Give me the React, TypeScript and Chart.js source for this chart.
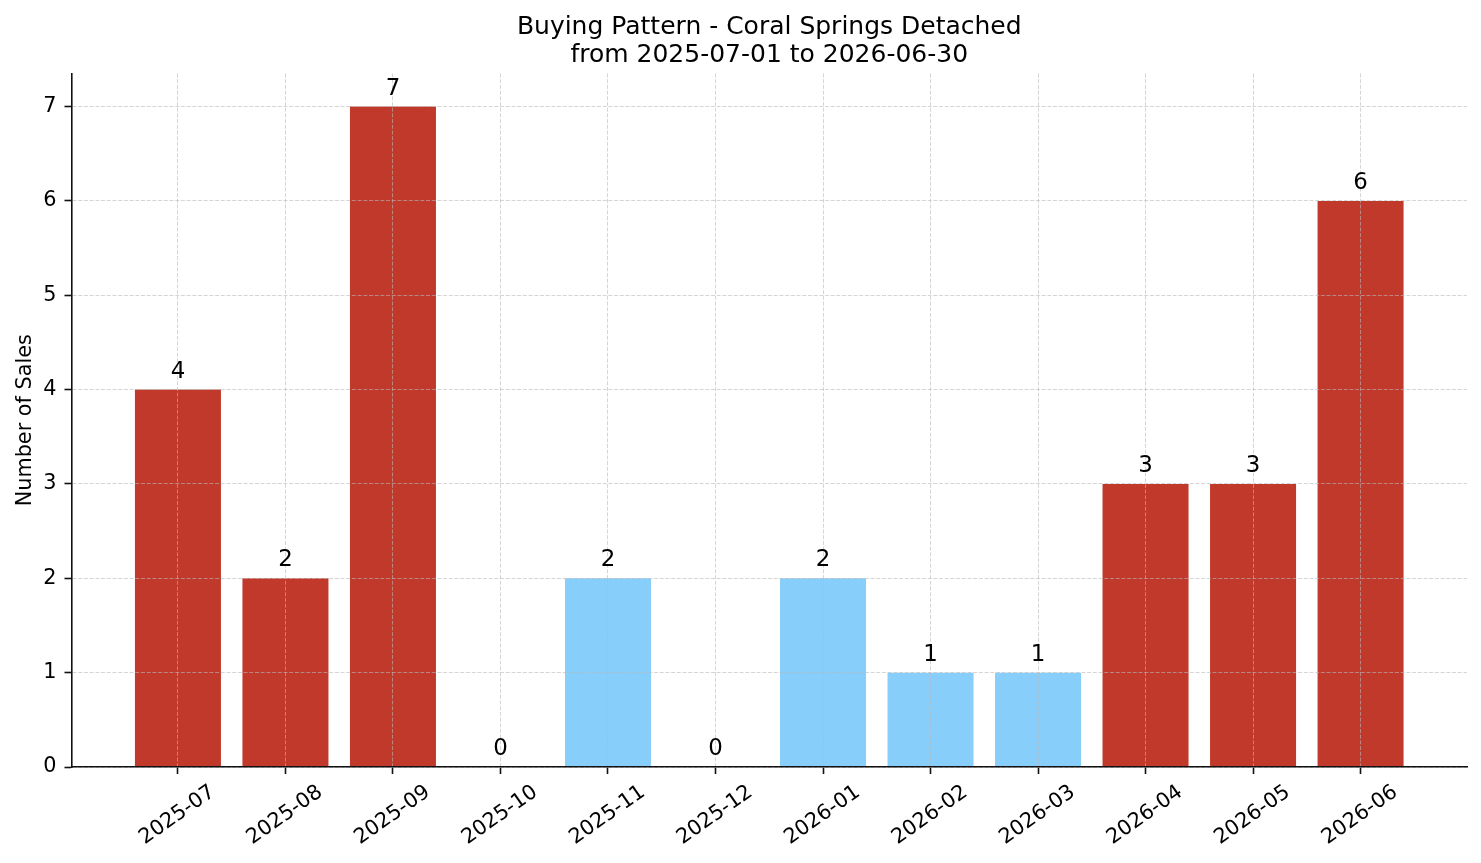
import { useEffect, useRef } from 'react';
import { Chart, registerables } from 'chart.js';

Chart.register(...registerables);

// Monthly sales for the period
const months = [
  '2025-07', '2025-08', '2025-09', '2025-10', '2025-11', '2025-12',
  '2026-01', '2026-02', '2026-03', '2026-04', '2026-05', '2026-06',
];
const salesCounts = [4, 2, 7, 0, 2, 0, 2, 1, 1, 3, 3, 6];
// Busy season (Apr–Sep) is shown in red, quiet season (Oct–Mar) in light blue
const busySeason = [true, true, true, false, false, false, false, false, false, true, true, true];
const yTicks = [0, 1, 2, 3, 4, 5, 6, 7];
const chartTitle = ['Buying Pattern - Coral Springs Detached', 'from 2025-07-01 to 2026-06-30'];
const yAxisLabel = 'Number of Sales';

const BUSY_COLOR = '#C0392B';
const QUIET_COLOR = '#87CEFA';
const FONT = 'DejaVu Sans';
const AXIS_COLOR = '#111';
const GRID_COLOR = 'rgba(185,185,185,0.6)';

// Draws the count above each bar
const barValueLabels = {
  id: 'barValueLabels',
  afterDraw(chart: any) {
    const { ctx } = chart;
    const meta = chart.getDatasetMeta(0);
    const data = chart.data.datasets[0].data as { x: number; y: number }[];
    ctx.save();
    ctx.font = `22.9px "${FONT}"`;
    ctx.fillStyle = '#000';
    ctx.textAlign = 'center';
    ctx.textBaseline = 'alphabetic';
    meta.data.forEach((el: any, i: number) => {
      ctx.fillText(String(data[i].y), el.x, el.y - 12);
    });
    ctx.restore();
  },
};

export default function App() {
  const canvasRef = useRef<HTMLCanvasElement>(null);

  useEffect(() => {
    const canvas = canvasRef.current;
    if (!canvas) return;

    const chart = new Chart(canvas, {
      type: 'bar',
      data: {
        datasets: [
          {
            data: salesCounts.map((v, i) => ({ x: i, y: v })),
            backgroundColor: busySeason.map((b) => (b ? BUSY_COLOR : QUIET_COLOR)),
            borderWidth: 0,
            categoryPercentage: 1,
            barPercentage: 0.8,
          },
        ],
      },
      options: {
        animation: false,
        responsive: false,
        devicePixelRatio: 1,
        layout: { padding: { left: 0, right: 14, top: 0, bottom: 0 } },
        plugins: {
          legend: { display: false },
          tooltip: { enabled: false },
          title: {
            display: true,
            fullSize: false,
            text: chartTitle,
            color: '#000',
            font: { family: FONT, size: 25, weight: 'normal', lineHeight: 1.12 },
            padding: { top: 13, bottom: 4.5 },
          },
        },
        scales: {
          x: {
            type: 'linear',
            min: -0.99,
            max: 11.99,
            offset: false,
            afterBuildTicks: (scale: any) => {
              scale.ticks = months.map((_, i) => ({ value: i }));
            },
            afterFit: (scale: any) => {
              scale.height = 96;
            },
            grid: {
              offset: false,
              color: GRID_COLOR,
              lineWidth: 1,
              z: 1,
              tickLength: 7,
              tickColor: AXIS_COLOR,
              tickWidth: 1.6,
            },
            border: { display: true, color: AXIS_COLOR, width: 1.6, dash: [4, 1.7], z: 2 },
            ticks: {
              autoSkip: false,
              minRotation: 35,
              maxRotation: 35,
              padding: 6,
              labelOffset: 35,
              color: '#000',
              font: { family: FONT, size: 20.8 },
              callback: (v: any) => months[Number(v)] ?? '',
            },
          },
          y: {
            type: 'linear',
            min: 0,
            max: 7.35,
            afterBuildTicks: (scale: any) => {
              scale.ticks = yTicks.map((v) => ({ value: v }));
            },
            afterFit: (scale: any) => {
              scale.width = 71.5;
            },
            grid: {
              color: GRID_COLOR,
              lineWidth: 1,
              z: 1,
              tickLength: 7,
              tickColor: AXIS_COLOR,
              tickWidth: 1.6,
            },
            border: { display: true, color: AXIS_COLOR, width: 1.6, dash: [4, 1.7], z: 2 },
            ticks: {
              padding: 8,
              color: '#000',
              font: { family: FONT, size: 20.8 },
            },
            title: {
              display: true,
              text: yAxisLabel,
              color: '#000',
              font: { family: FONT, size: 20.8 },
              padding: { top: 13, bottom: 0 },
            },
          },
        },
      },
      plugins: [barValueLabels],
    } as any);

    return () => chart.destroy();
  }, []);

  return (
    <div style={{ position: 'absolute', left: 0, top: 0, width: 1481, height: 863, background: '#fff' }}>
      <canvas ref={canvasRef} width={1481} height={863} style={{ display: 'block' }} />
    </div>
  );
}
